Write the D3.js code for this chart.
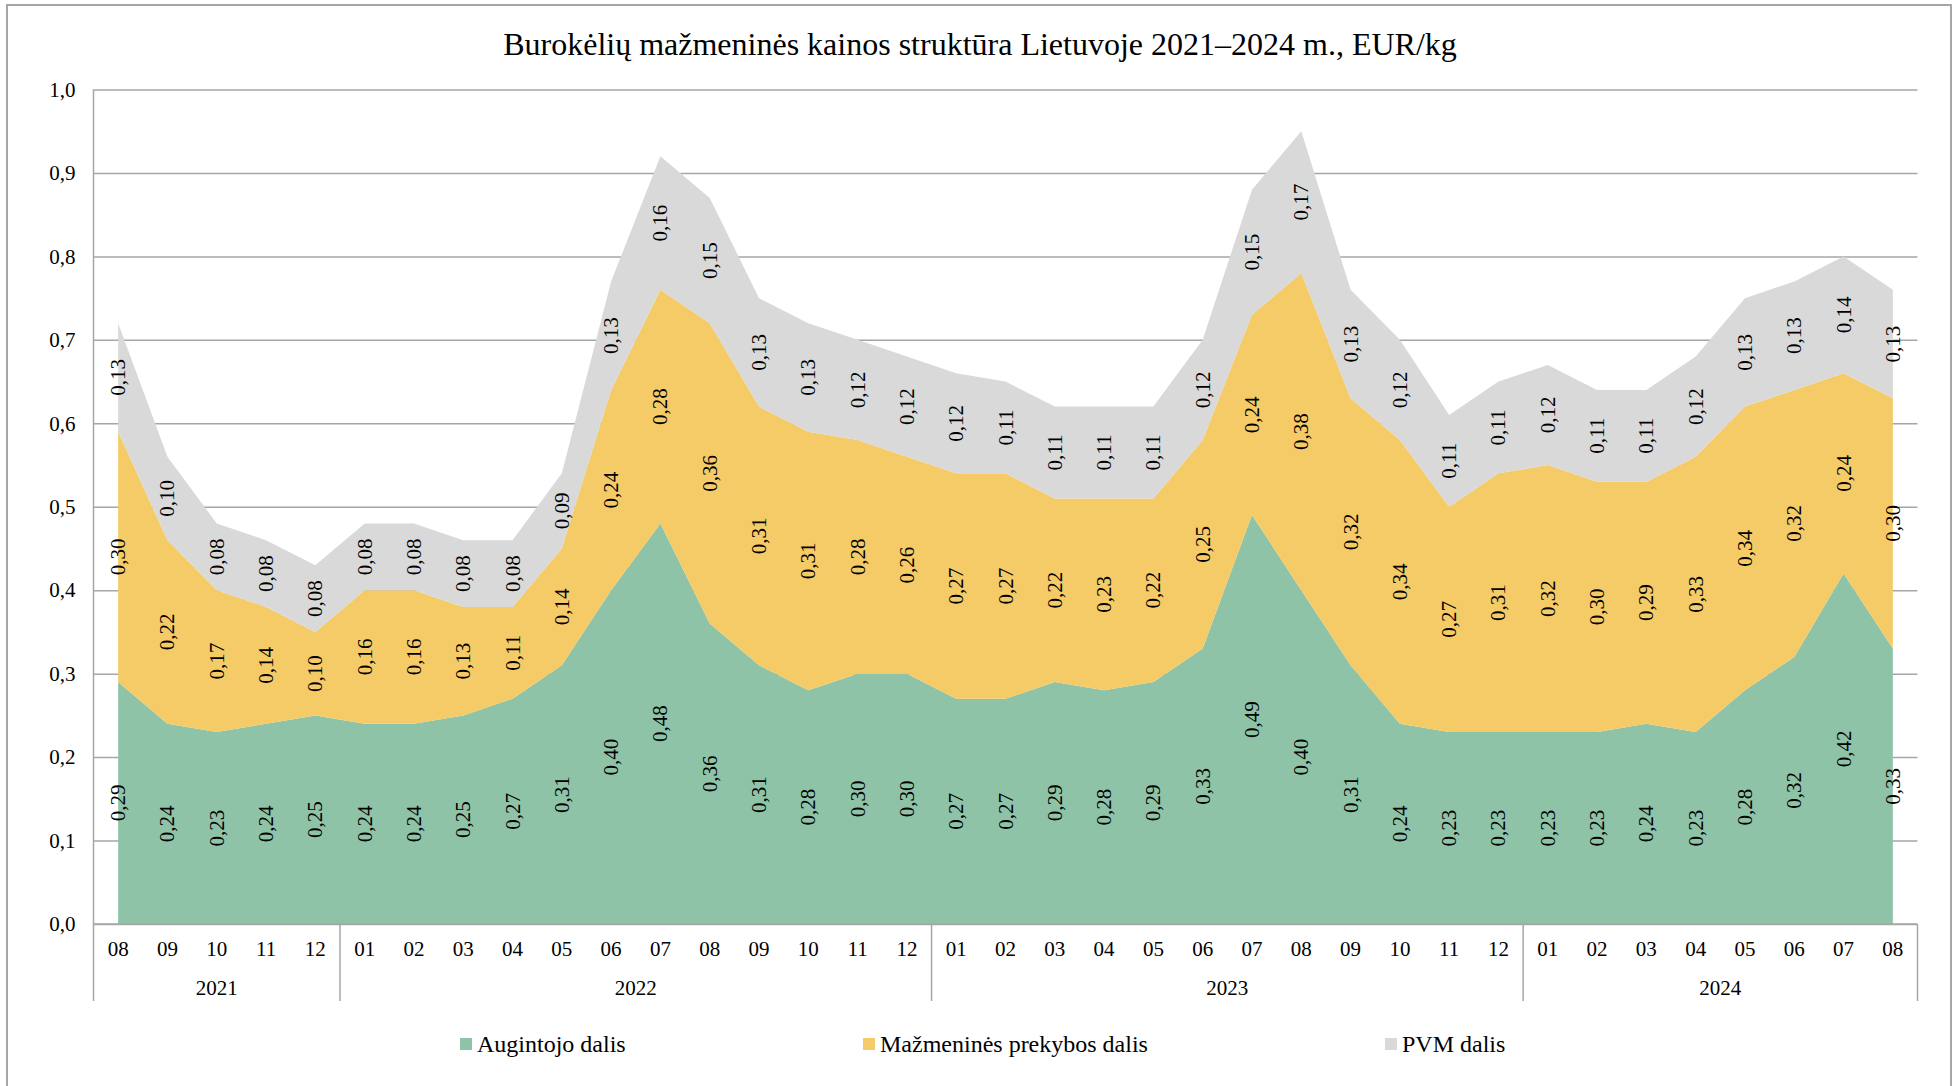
<!DOCTYPE html>
<html><head><meta charset="utf-8">
<script src="https://cdn.jsdelivr.net/npm/d3@7"></script>
<style>
html,body{margin:0;padding:0;background:#fff;}
svg{display:block;font-family:"Liberation Serif","Times New Roman",serif;}
</style></head>
<body><svg id="c" width="1959" height="1086"></svg>
<script>
const months = ["08","09","10","11","12",
  "01","02","03","04","05","06","07","08","09","10","11","12",
  "01","02","03","04","05","06","07","08","09","10","11","12",
  "01","02","03","04","05","06","07","08"];
const years = [{label:"2021",count:5},{label:"2022",count:12},{label:"2023",count:12},{label:"2024",count:8}];
const augintojo = [0.29,0.24,0.23,0.24,0.25,
  0.24,0.24,0.25,0.27,0.31,0.40,0.48,0.36,0.31,0.28,0.30,0.30,
  0.27,0.27,0.29,0.28,0.29,0.33,0.49,0.40,0.31,0.24,0.23,0.23,
  0.23,0.23,0.24,0.23,0.28,0.32,0.42,0.33];
const mazmenines = [0.30,0.22,0.17,0.14,0.10,
  0.16,0.16,0.13,0.11,0.14,0.24,0.28,0.36,0.31,0.31,0.28,0.26,
  0.27,0.27,0.22,0.23,0.22,0.25,0.24,0.38,0.32,0.34,0.27,0.31,
  0.32,0.30,0.29,0.33,0.34,0.32,0.24,0.30];
const pvm = [0.13,0.10,0.08,0.08,0.08,
  0.08,0.08,0.08,0.08,0.09,0.13,0.16,0.15,0.13,0.13,0.12,0.12,
  0.12,0.11,0.11,0.11,0.11,0.12,0.15,0.17,0.13,0.12,0.11,0.11,
  0.12,0.11,0.11,0.12,0.13,0.13,0.14,0.13];
const seriesNames = ["Augintojo dalis","Mažmeninės prekybos dalis","PVM dalis"];
const colors = ["#8ec3a8","#f5cb67","#d9d9d9"];
const yTicks = [0,0.1,0.2,0.3,0.4,0.5,0.6,0.7,0.8,0.9,1.0];
const title = "Burokėlių mažmeninės kainos struktūra Lietuvoje 2021–2024 m., EUR/kg";

const svg = d3.select("#c");
const L = 93.5, R = 1917.5, T = 89.5, B = 924;
const fmt = v => d3.format(".2f")(v).replace(".", ",");
const fmt1 = v => d3.format(".1f")(v).replace(".", ",");

// outer border
svg.append("rect").attr("x",7).attr("y",5).attr("width",1944).attr("height",1100)
  .attr("fill","none").attr("stroke","#a6a6a6").attr("stroke-width",2);

svg.append("text").attr("x",980).attr("y",55).attr("text-anchor","middle")
  .attr("font-size",32).attr("fill","#000").text(title);

const idx = d3.range(months.length);
const x = d3.scaleBand().domain(idx).range([L,R]).padding(0);
const xc = i => x(i) + x.bandwidth()/2;
const y = d3.scaleLinear().domain([0,1]).range([B,T]);

// gridlines
const yAxis = d3.axisLeft(y).tickValues(yTicks).tickSize(-(R-L)).tickFormat(fmt1).tickPadding(18);
const gy = svg.append("g").attr("transform",`translate(${L},0)`).call(yAxis);
gy.select(".domain").remove();
gy.selectAll(".tick line").attr("stroke","#a6a6a6").attr("stroke-width",1.5);
gy.selectAll(".tick text").attr("font-size",21).attr("fill","#000")
  .attr("font-family","Liberation Serif, Times New Roman, serif");

// stack
const rows = idx.map(i => ({i, a:augintojo[i], m:mazmenines[i], p:pvm[i]}));
const stack = d3.stack().keys(["a","m","p"]);
const layers = stack(rows);
const area = d3.area().x(d => xc(d.data.i)).y0(d => y(d[0])).y1(d => y(d[1]));
svg.append("g").selectAll("path").data(layers).join("path")
  .attr("d", area).attr("fill", (d,k) => colors[k]);

// y axis line
svg.append("line").attr("x1",L).attr("x2",L).attr("y1",T).attr("y2",B)
  .attr("stroke","#a6a6a6").attr("stroke-width",1.5);

// data labels
const lg = svg.append("g").attr("font-size",21).attr("fill","#000");
layers.forEach(layer => {
  layer.forEach(d => {
    const cx = xc(d.data.i), cy = y((d[0]+d[1])/2);
    lg.append("text").attr("transform",`translate(${cx},${cy}) rotate(-90)`)
      .attr("text-anchor","middle").attr("dominant-baseline","central")
      .text(fmt(d[1]-d[0]));
  });
});

// x axis
const xAxis = d3.axisBottom(x).tickFormat(i => months[i]).tickSize(0).tickPadding(17);
const gx = svg.append("g").attr("transform",`translate(0,${B})`).call(xAxis);
gx.select(".domain").attr("stroke","#a6a6a6").attr("stroke-width",1.5).attr("d",`M${L},0H${R}`);
gx.selectAll(".tick text").attr("font-size",21).attr("fill","#000")
  .attr("font-family","Liberation Serif, Times New Roman, serif");

// year groups
let start = 0;
const bounds = [0];
years.forEach(yr => { start += yr.count; bounds.push(start); });
const sepX = b => b === months.length ? R : x(b);
svg.append("g").selectAll("line").data(bounds).join("line")
  .attr("x1", b => sepX(b)).attr("x2", b => sepX(b))
  .attr("y1", B).attr("y2", 1001).attr("stroke","#a6a6a6").attr("stroke-width",1.5);
svg.append("g").selectAll("text").data(years).join("text")
  .attr("x", (yr,k) => (sepX(bounds[k]) + sepX(bounds[k+1]))/2)
  .attr("y", 995).attr("text-anchor","middle").attr("font-size",21).attr("fill","#000")
  .text(yr => yr.label);

// legend
const legendX = [460, 863, 1385];
const lgd = svg.append("g");
seriesNames.forEach((n,k) => {
  lgd.append("rect").attr("x",legendX[k]).attr("y",1038).attr("width",12).attr("height",12).attr("fill",colors[k]);
  lgd.append("text").attr("x",legendX[k]+17).attr("y",1052).attr("font-size",24).attr("fill","#000").text(n);
});
</script></body></html>
